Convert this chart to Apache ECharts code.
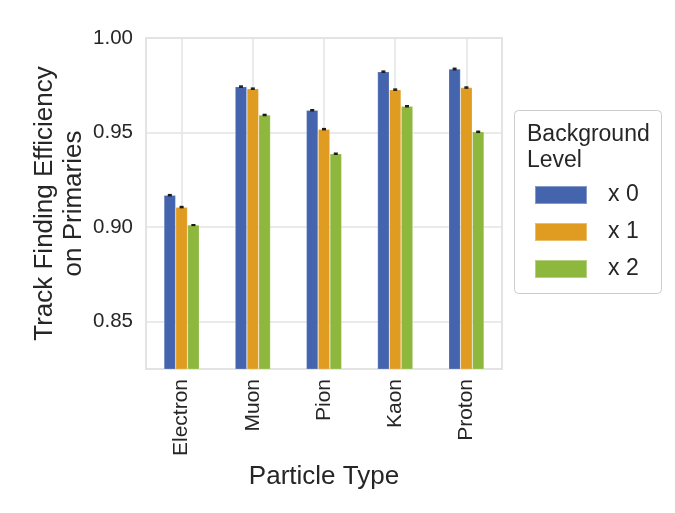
<!DOCTYPE html>
<html><head><meta charset="utf-8">
<script src="https://cdn.jsdelivr.net/npm/echarts@6/dist/echarts.min.js"></script>
<style>html,body{margin:0;padding:0;background:#fff}#c{width:675px;height:513px}</style>
</head><body><div id="c"></div>
<script>
const categories = ['Electron','Muon','Pion','Kaon','Proton'];
const seriesNames = ['x 0','x 1','x 2'];
const eff0 = [0.9169,0.9743,0.9618,0.9822,0.9836];
const eff1 = [0.9106,0.9732,0.9518,0.9727,0.9738];
const eff2 = [0.9011,0.9593,0.9388,0.9639,0.9504];
const err0 = [0.0003,0.0003,0.0003,0.0003,0.0004];
const err1 = [0.0003,0.0003,0.0003,0.0003,0.0003];
const err2 = [0.0002,0.0003,0.0003,0.0003,0.0003];
const colors = ['#4464ad','#e09b21','#8eb73d'];
const yMin = 0.825, yMax = 1.0;

const chart = echarts.init(document.getElementById('c'));
const FONT = 'Liberation Sans';
const TXT = '#262626';
const BAR_W = 11.8;
const allEff = [eff0, eff1, eff2];
const allErr = [err0, err1, err2];

function errSeries(s){
  return {
    type:'custom', xAxisIndex:0, yAxisIndex:0, z:10, silent:true,
    data: categories.map((c,i)=>[i, allEff[s][i]-allErr[s][i], allEff[s][i]+allErr[s][i]]),
    renderItem: function(params, api){
      const i = api.value(0);
      const lo = api.coord([i, api.value(1)]);
      const hi = api.coord([i, api.value(2)]);
      const x = lo[0] + (s-1)*BAR_W;
      const st = {stroke:'#1a1a1a', lineWidth:1.4};
      return {type:'group', children:[
        {type:'line', shape:{x1:x,y1:lo[1],x2:x,y2:hi[1]}, style:st},
        {type:'line', shape:{x1:x-2,y1:lo[1],x2:x+2,y2:lo[1]}, style:st},
        {type:'line', shape:{x1:x-2,y1:hi[1],x2:x+2,y2:hi[1]}, style:st}
      ]};
    }
  };
}

const barSeries = seriesNames.map((n,s)=>({
  name:n, type:'bar', xAxisIndex:0, yAxisIndex:0,
  data: allEff[s], barWidth: BAR_W, barGap:'0%',
  itemStyle:{color:colors[s], borderColor:'rgba(255,255,255,0.35)', borderWidth:0.6},
  emphasis:{disabled:true}
}));

chart.setOption({
  animation:false,
  textStyle:{fontFamily:FONT},
  grid:{left:146, top:38, right:173, bottom:144, show:true, borderColor:'#dadada', borderWidth:1.5, backgroundColor:'transparent'},
  xAxis:[{
    type:'category', data:categories,
    axisLine:{show:false}, axisTick:{show:false},
    axisLabel:{rotate:90, fontSize:21, color:TXT, margin:10, fontFamily:FONT},
    splitLine:{show:false},
    name:'Particle Type', nameLocation:'middle', nameGap:95, nameMoveOverlap:false,
    nameTextStyle:{fontSize:26, color:TXT, fontFamily:FONT}
  },{
    type:'value', min:0, max:10, interval:1, show:true,
    axisLine:{show:false}, axisTick:{show:false}, axisLabel:{show:false},
    splitLine:{show:true, lineStyle:{color:['rgba(0,0,0,0)','#e3e3e3'], width:1.5}}
  }],
  yAxis:{
    type:'value', min:yMin, max:yMax, interval:0.025,
    axisLine:{show:false}, axisTick:{show:false},
    axisLabel:{fontSize:20.5, color:TXT, margin:13, fontFamily:FONT,
      formatter:function(v){ return Math.abs(v*20-Math.round(v*20))<1e-6 ? v.toFixed(2) : ''; }},
    splitLine:{show:true, lineStyle:{color:['rgba(0,0,0,0)','#e3e3e3'], width:1.5}},
    name:'Track Finding Efficiency\non Primaries', nameLocation:'middle', nameGap:58, nameMoveOverlap:false,
    nameTextStyle:{fontSize:26, color:TXT, lineHeight:29, fontFamily:FONT}
  },
  legend:{
    orient:'vertical', left:534, top:183.5, padding:0, itemWidth:52, itemHeight:18, itemGap:14,
    icon:'rect', data:seriesNames,
    textStyle:{fontSize:23, color:TXT, padding:[0,0,0,16], fontFamily:FONT}
  },
  graphic:[
    {type:'rect', z:-1, shape:{x:514.5,y:110.5,width:147,height:183,r:4}, style:{fill:'#fff', stroke:'#cccccc', lineWidth:1}},
    {type:'text', left:527, top:122, style:{text:'Background\nLevel', fontSize:23, lineHeight:26, fill:TXT, fontFamily:FONT}}
  ],
  series: barSeries.concat([errSeries(0), errSeries(1), errSeries(2)])
});
</script></body></html>
